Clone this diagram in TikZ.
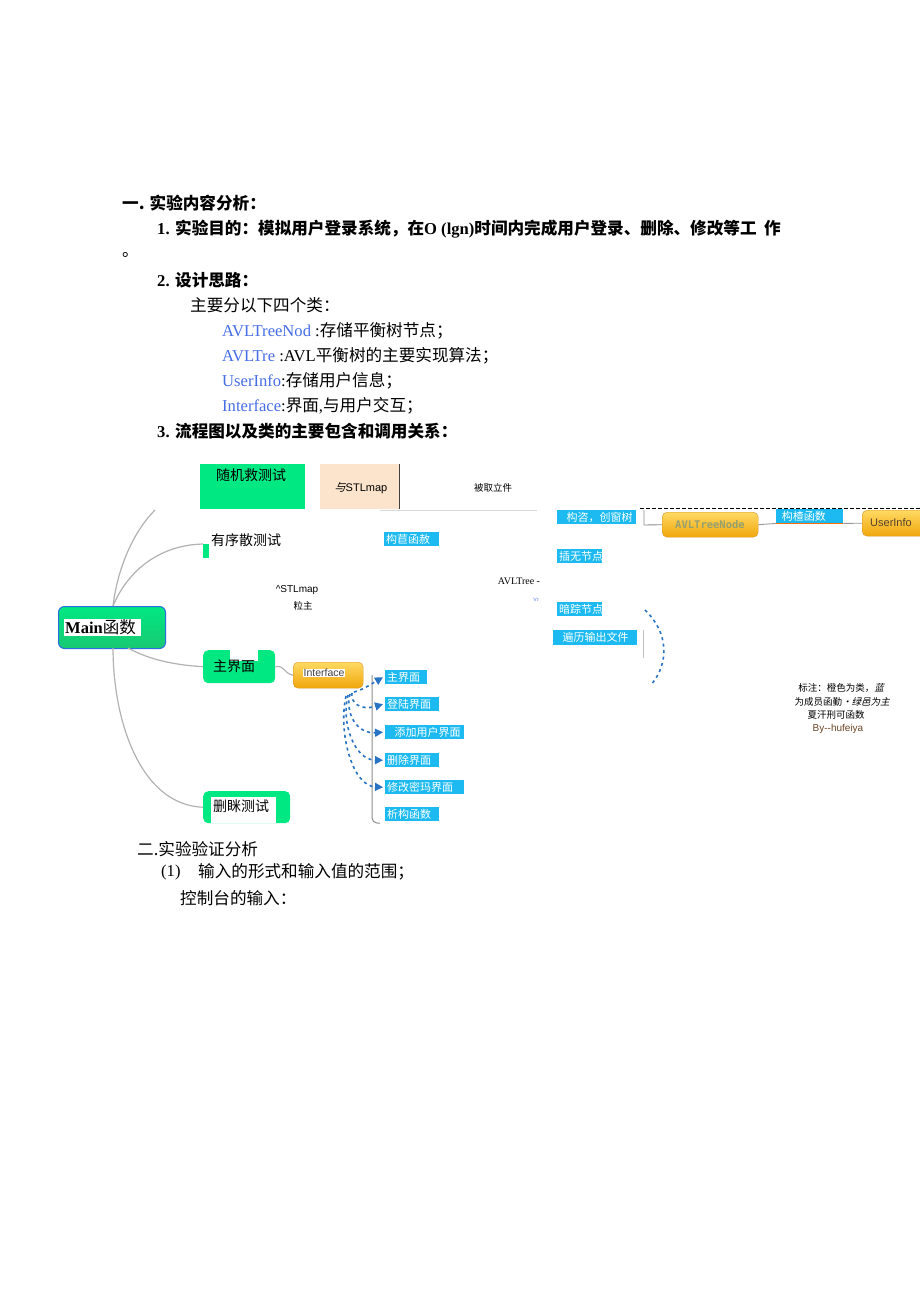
\documentclass[tikz,border=0pt]{standalone}
\usepackage{fontspec}
\setmainfont{Liberation Serif}
\newfontfamily\cjk{Noto Sans CJK SC}
\newfontfamily\cjkit{Noto Sans CJK SC}[FakeSlant=0.25]
\newfontfamily\sansf{Liberation Sans}
\newfontfamily\monof{DejaVu Sans Mono}
\usetikzlibrary{arrows.meta}
\definecolor{mgreen}{RGB}{0,232,130}
\definecolor{dgreen}{RGB}{25,200,115}
\definecolor{mblue}{RGB}{40,110,225}
\definecolor{peach}{RGB}{252,228,204}
\definecolor{lblue}{RGB}{28,186,240}
\definecolor{clsblue}{RGB}{70,110,230}
\definecolor{orangeT}{RGB}{255,218,100}
\definecolor{orangeB}{RGB}{240,165,10}
\definecolor{orangeD}{RGB}{215,150,40}
\definecolor{lgrey}{RGB}{178,178,178}
\definecolor{dblue}{RGB}{40,115,195}
\definecolor{brownt}{RGB}{110,70,40}
\tikzset{
  body/.style={inner sep=0pt, anchor=west, font=\fontsize{16.6}{19}\selectfont},
  zh14/.style={inner sep=0pt, font=\cjk\fontsize{14}{16}\selectfont},
  lab/.style={fill=lblue, text=white, inner xsep=2pt, inner ysep=0pt, anchor=north west,
    minimum height=14pt, align=left, font=\cjk\fontsize{11}{13}\selectfont},
  obox/.style={draw=orangeD, rounded corners=5pt, top color=orangeT, bottom color=orangeB,
    anchor=north west, inner sep=0pt},
  gbox/.style={fill=mgreen, anchor=north west, inner sep=0pt},
  branch/.style={lgrey, line width=1.2pt},
  darr/.style={dblue, line width=1.6pt, dash pattern=on 3pt off 3.5pt,
    -{Triangle[length=8pt,width=8pt]}},
  note/.style={inner sep=0pt, font=\cjk\fontsize{9.5}{11}\selectfont}
}
\begin{document}
\begin{tikzpicture}[x=1pt,y=-1pt]
\useasboundingbox (0,0) rectangle (920,1302);
\fill[white] (0,0) rectangle (920,1302);

% ---------- text part ----------
\node[body] (h1) at (122,203) {{\cjk\bfseries 一. 实验内容分析：}};
\node[body] (l1) at (157,229) {\bfseries 1. {\cjk 实验目的：模拟用户登录系统，在}O (lgn){\cjk 时间内完成用户登录、删除、修改等工\ \ 作}};
\node[body] (l1b) at (122,255) {{\cjk 。}};
\node[body] (l2) at (157,280) {\bfseries 2. {\cjk 设计思路：}};
\node[body] (l3) at (190,305) {{\cjk 主要分以下四个类：}};
\node[body] (c1) at (222,331) {\textcolor{clsblue}{AVLTreeNod} :{\cjk 存储平衡树节点；}};
\node[body] (c2) at (222,356) {\textcolor{clsblue}{AVLTre} :AVL{\cjk 平衡树的主要实现算法；}};
\node[body] (c3) at (222,381) {\textcolor{clsblue}{UserInfo}:{\cjk 存储用户信息；}};
\node[body] (c4) at (222,406) {\textcolor{clsblue}{Interface}:{\cjk 界面},{\cjk 与用户交互；}};
\node[body] (l4) at (157,431) {\bfseries 3. {\cjk 流程图以及类的主要包含和调用关系：}};

% ---------- top boxes ----------
\node[gbox, minimum width=105pt, minimum height=45pt] (rand) at (200,464) {};
\node[zh14] (randl) at (251,475) {随机救测试};
\node[fill=peach, anchor=north west, inner sep=0pt, minimum width=79pt, minimum height=45pt] (stl) at (320,464) {};
\draw[black!75, line width=1pt] (stl.north east) -- (stl.south east);
\node[inner sep=0pt, font=\sansf\fontsize{11}{13}\selectfont] (stll) at (361,488) {{\cjkit 与}STLmap};
\node[inner sep=0pt, font=\cjk\fontsize{9.5}{11}\selectfont] (read) at (493,488) {被取立件};
\coordinate (r1) at (380,510);
\coordinate (r2) at (537,510);
\draw[black!15, line width=0.8pt] (r1) -- (r2);

% ---------- Main ----------
\node[draw=mblue, line width=1pt, rounded corners=6pt, top color=mgreen, bottom color=dgreen,
  anchor=north west, minimum width=107pt, minimum height=42pt, inner sep=0pt] (main) at (58,606) {};
\node[fill=white, inner sep=1pt, anchor=west, font=\fontsize{16.5}{18}\selectfont] (mainl) at (64,627.5)
  {\bfseries Main{\cjk\mdseries 函数}\ \ };

% branch nodes
\node[zh14, anchor=west] (ord) at (211,540) {有序散测试};
\node[gbox, minimum width=6pt, minimum height=14pt] (ordg) at (203,544) {};
\node[gbox, rounded corners=5pt, minimum width=72pt, minimum height=33pt] (mainui) at (203,650) {};
\fill[white] (230,650) rectangle (258,661);
\node[zh14, anchor=west] (mainuil) at (213,666) {主界面};
\node[gbox, rounded corners=5pt, minimum width=87pt, minimum height=32pt] (del) at (203,791) {};
\fill[white] (211,797) rectangle (276,823);
\node[zh14, anchor=west, fill=white, inner sep=0pt] (dell) at (213,806) {删眯测试};

\coordinate (mt) at (113,606);
\coordinate (mb) at (113,648);
\coordinate (mr) at (128,648);
\coordinate (topend) at (155,510);
\draw[branch] (mt) .. controls (118,565) and (135,530) .. (topend);
\draw[branch] (mt) .. controls (128,570) and (160,545) .. (ordg.north west);
\draw[branch] (mr) .. controls (150,660) and (175,665) .. (mainui.west);
\draw[branch] (mb) .. controls (113,720) and (140,805) .. (del.west);

% middle texts
\node[lab, text width=51pt] (ctor1) at (384,532) {构苣函赦};
\node[inner sep=0pt, font=\sansf\fontsize{10}{12}\selectfont] (stl2) at (297,590) {\^{}STLmap};
\node[inner sep=0pt, font=\cjk\fontsize{9.5}{11}\selectfont] (stl3) at (303,606) {粒主};
\node[inner sep=0pt, font=\fontsize{10}{12}\selectfont] (avlt) at (519,581) {AVLTree -};
\node[inner sep=0pt, text=clsblue, font=\sansf\fontsize{5}{6}\selectfont] (tiny) at (536,600) {'v'r};

% AVLTree labels
\node[lab, text width=75pt] (b1) at (557,510) {\ \ 构咨，创窗树};
\node[lab, text width=41pt] (b2) at (557,549) {插无节点};
\node[lab, text width=41pt] (b3) at (557,602) {暗踪节点};
\node[lab, text width=80pt, minimum height=15pt] (b4) at (553,630) {\ \ 遍历输出文件};
\coordinate (g1) at (643,630);
\coordinate (g2) at (643,658);
\draw[black!25, line width=1pt] (g1) -- (g2);
\coordinate (a1) at (645,610);
\coordinate (a2) at (651,685);
\draw[dblue, line width=1.6pt, dash pattern=on 3pt off 3.5pt] (a1) .. controls (668,632) and (670,662) .. (a2);

% top right classes
\coordinate (d1) at (640,508);
\coordinate (d2) at (920,508);
\draw[black, line width=0.8pt, dash pattern=on 4pt off 2pt] (d1) -- (d2);
\node[obox, minimum width=96pt, minimum height=25pt] (avln) at (662,512) {};
\node[inner sep=0pt, text={rgb,255:red,150;green,160;blue,110}, font=\monof\bfseries\fontsize{10.5}{12}\selectfont] (avlnl) at (710,524.5) {AVLTreeNode};
\coordinate (k1) at (644,510);
\coordinate (k2) at (644,525);
\draw[black!45, line width=0.9pt] (k1) -- (k2) -- (avln.west);
\node[lab, text width=63pt] (ctor2) at (776,509) {\ 构楂函数};
\draw[orange!85!red, line width=1.5pt] (ctor2.south west) -- (ctor2.south east);
\draw[black!40, line width=0.9pt] (avln.east) -- (ctor2.south west);
\node[obox, minimum width=64pt, minimum height=26pt] (ui) at (862,510) {};
\node[inner sep=0pt, anchor=west, text={rgb,255:red,85;green,65;blue,45}, font=\sansf\fontsize{11}{13}\selectfont] (uil) at (870,523) {UserInfo};
\draw[black!40, line width=0.9pt] (ctor2.south east) -- (ui.west);

% Interface
\node[obox, minimum width=70pt, minimum height=26pt] (iface) at (293,662) {};
\node[inner sep=0.5pt, fill=white, anchor=west, text=black!75, font=\sansf\fontsize{10.5}{12}\selectfont] (ifacel) at (303,673) {Interface};
\draw[branch] (mainui.east) .. controls (285,665) and (283,673) .. (iface.west);
\coordinate (v1) at (372,675);
\coordinate (v2) at (380,823);
\draw[black!45, line width=1pt, rounded corners=5pt] (v1) -- (372,823) -- (v2);

\node[lab, text width=38pt] (u1) at (385,670) {主界面};
\node[lab, text width=50pt] (u2) at (385,697) {登陆界面};
\node[lab, text width=75pt] (u3) at (385,725) {\ \ 添加用户界面};
\node[lab, text width=50pt] (u4) at (385,753) {删除界面};
\node[lab, text width=75pt] (u5) at (385,780) {修改密玛界面};
\node[lab, text width=50pt] (u6) at (385,807) {析构函数};

\coordinate (s1) at (354,692);
\coordinate (s2) at (352,693);
\coordinate (s3) at (350,694);
\coordinate (s4) at (348,695);
\coordinate (s5) at (346,696);
\draw[darr] (s1) .. controls (362,690) and (368,686) .. ([xshift=-2pt]u1.west);
\draw[darr] (s2) .. controls (350,702) and (360,711) .. ([xshift=-2pt]u2.west);
\draw[darr] (s3) .. controls (345,712) and (356,734) .. ([xshift=-2pt]u3.west);
\draw[darr] (s4) .. controls (341,722) and (354,760) .. ([xshift=-2pt]u4.west);
\draw[darr] (s5) .. controls (338,732) and (352,786) .. ([xshift=-2pt]u5.west);

% note
\node[note] (n1) at (841,688) {标注：橙色为类，{\cjkit 蓝}};
\node[note] (n2) at (842,702) {为成员函勤{\cjkit •绿邑为主}};
\node[note] (n3) at (836,715) {夏汗刑可函数};
\node[note, text=brownt, font=\sansf\fontsize{10}{12}\selectfont] (n4) at (838,729) {By--hufeiya};

% ---------- bottom text ----------
\node[body] (h2) at (137,849) {{\cjk 二.实验验证分析}};
\node[body] (m1) at (161,872) {(1)};
\node[body] (m2) at (198,872) {{\cjk 输入的形式和输入值的范围；}};
\node[body] (m3) at (180,898) {{\cjk 控制台的输入：}};
\end{tikzpicture}
\end{document}
